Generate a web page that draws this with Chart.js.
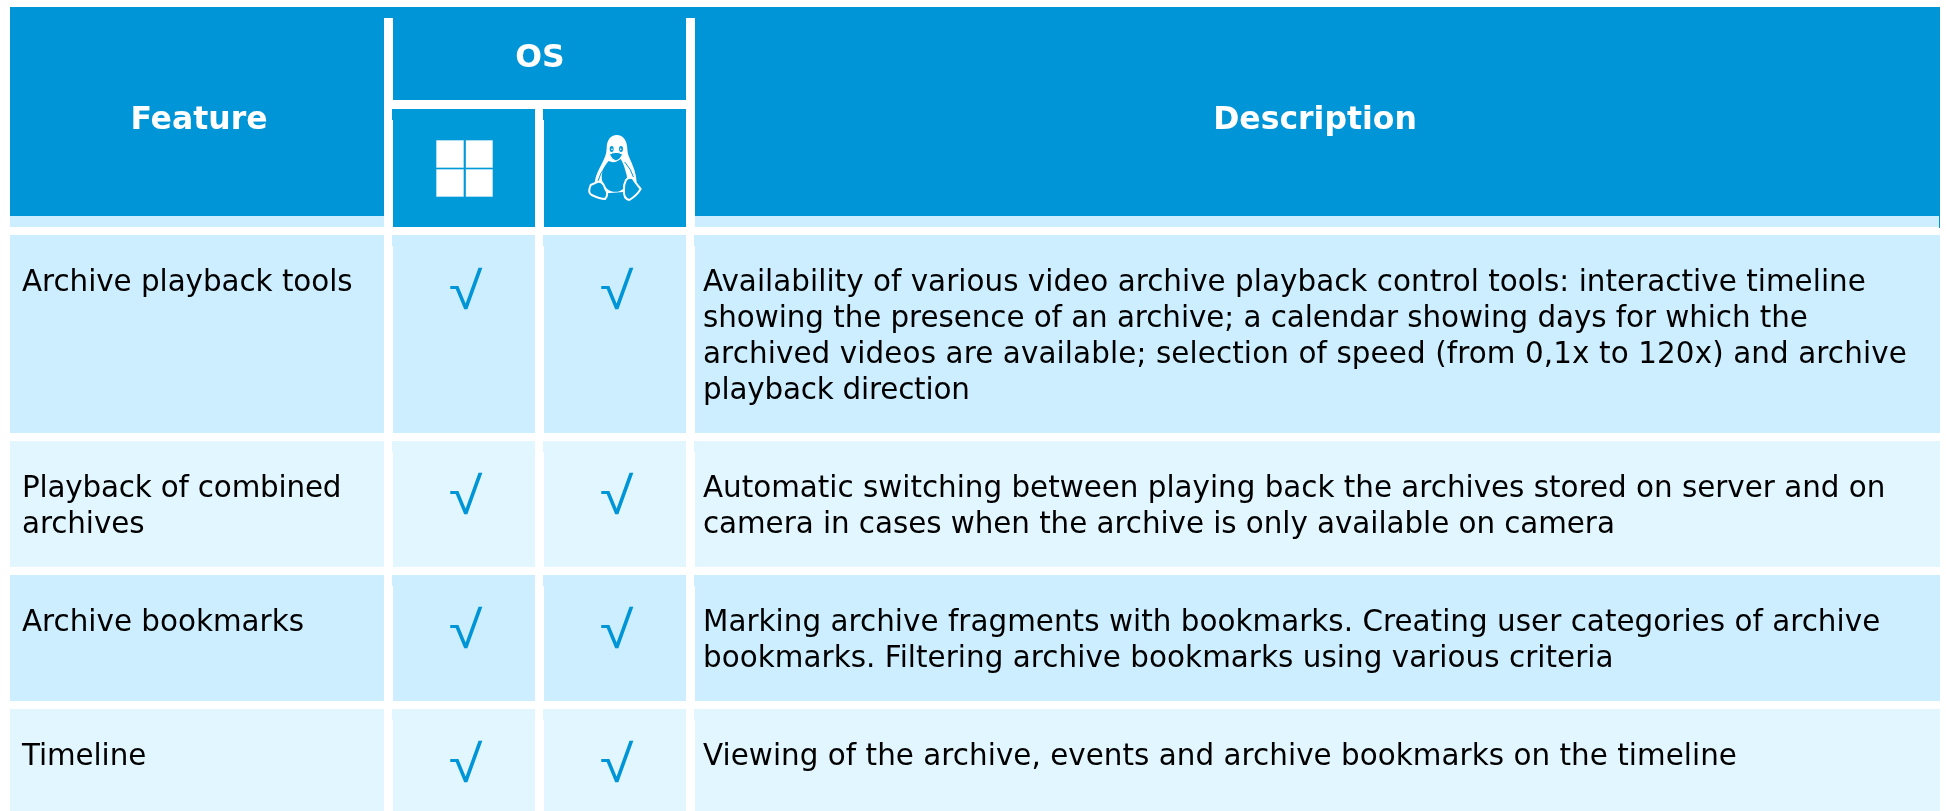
<!DOCTYPE html>
<html>
<head>
<meta charset="utf-8">
<title>Archive features by OS</title>
<script src="https://cdn.jsdelivr.net/npm/chart.js@4"></script>
<style>html,body{margin:0;padding:0;background:#fff}canvas{display:block}</style>
</head>
<body>
<canvas id="c" width="1946" height="811"></canvas>
<script>
const headerFeature = "Feature";
const headerOS = "OS";
const headerDescription = "Description";
const features = [
  ["Archive playback tools"],
  ["Playback of combined", "archives"],
  ["Archive bookmarks"],
  ["Timeline"]
];
const windowsSupport = [1, 1, 1, 1];
const linuxSupport = [1, 1, 1, 1];
const descriptions = [
  ["Availability of various video archive playback control tools: interactive timeline",
   "showing the presence of an archive; a calendar showing days for which the",
   "archived videos are available; selection of speed (from 0,1x to 120x) and archive",
   "playback direction"],
  ["Automatic switching between playing back the archives stored on server and on",
   "camera in cases when the archive is only available on camera"],
  ["Marking archive fragments with bookmarks. Creating user categories of archive",
   "bookmarks. Filtering archive bookmarks using various criteria"],
  ["Viewing of the archive, events and archive bookmarks on the timeline"]
];

/* layout (canvas-unit geometry of the table grid) */
const W = 1946, H = 811, RIGHT = 1940;
const rowTop = [235, 441, 575, 709];
const rowBottom = [433, 567, 701, 811];
const rowColor = ["#cceeff", "#e2f6ff", "#cceeff", "#e2f6ff"];
const colL = [10, 393, 544, 695];
const colR = [384, 535, 686, RIGHT];
const BLUE = "#0095d6", ICON = "#009ad9", STRIP = "#cceeff";
const CHECK_BLUE = "#0095d6";
const BODY_FONT = '29.4px "DejaVu Sans"';
const HEAD_FONT = 'bold 31.5px "DejaVu Sans"';
const CHECK_FONT = '52px "Liberation Sans"';
const LINE = 36, FIRST = 56;
const checkDrop = [74, 73, 73, 73];
/* per-line letter spacing, px */
const featureTracking = [[-0.05], [-0.19, -0.1], [0], [-0.1]];
const descriptionTracking = [[0.03, -0.068, 0.107, -0.2], [-0.013, -0.06], [0.03, 0.04], [0.035]];

function bar(x0, x1, y0, y1, color) {
  return {
    type: "bar", indexAxis: "y", grouped: false, barThickness: y1 - y0,
    backgroundColor: color, borderWidth: 0, borderSkipped: false, inflateAmount: 0,
    data: [{ x: [x0, x1], y: (y0 + y1) / 2 }]
  };
}
const cells = [];
/* header */
cells.push(bar(10, RIGHT, 7, 18, BLUE));
cells.push(bar(10, 384, 18, 216, BLUE));
cells.push(bar(10, 384, 216, 227, STRIP));
cells.push(bar(393, 686, 18, 100, BLUE));
cells.push(bar(393, 535, 109, 227, ICON));
cells.push(bar(544, 686, 109, 227, ICON));
cells.push(bar(392, 393, 109, 120, ICON));
cells.push(bar(543, 544, 109, 120, ICON));
cells.push(bar(695, RIGHT, 18, 216, BLUE));
cells.push(bar(695, RIGHT - 1, 216, 227, STRIP));
cells.push(bar(RIGHT - 1, RIGHT, 216, 228, BLUE));
/* body rows */
rowTop.forEach((t, r) => {
  colL.forEach((l, c) => {
    cells.push(bar(l, colR[c], t, rowBottom[r], rowColor[r]));
    if (c > 0) cells.push(bar(l - 1, l, t, t + 11, rowColor[r]));
  });
});
const checkCols = [465.5, 616.5];
const checkPoints = (flags, cx) => flags.map((v, i) => v ? { x: cx, y: rowTop[i] + checkDrop[i] } : null).filter(Boolean);
const checkSets = [
  { type: "scatter", label: "Windows", data: checkPoints(windowsSupport, checkCols[0]), pointRadius: 0, showLine: false },
  { type: "scatter", label: "Linux", data: checkPoints(linuxSupport, checkCols[1]), pointRadius: 0, showLine: false }
];

function drawWindows(ctx) {
  ctx.fillStyle = "#fff";
  ctx.strokeStyle = "rgba(255,255,255,0.35)";
  ctx.lineWidth = 1;
  [[436.5, 140.5, 27, 27], [466, 140.5, 26.5, 27], [436.5, 169.5, 27, 27], [466, 169.5, 26.5, 27]].forEach(p => {
    ctx.fillRect(p[0], p[1], p[2], p[3]);
    ctx.strokeRect(p[0], p[1], p[2], p[3]);
  });
}
function drawTux(ctx) {
  ctx.save();
  ctx.translate(570, 125);
  ctx.scale(1 / 3, 1 / 3);
  ctx.lineJoin = "round";
  ctx.lineCap = "round";
  /* head and shoulder silhouette */
  ctx.fillStyle = "#fff";
  ctx.beginPath();
  ctx.moveTo(140, 30);
  ctx.bezierCurveTo(160, 30, 172, 48, 172, 72);
  ctx.bezierCurveTo(172, 100, 196, 120, 200, 170);
  ctx.lineTo(170, 200);
  ctx.lineTo(110, 205);
  ctx.lineTo(74, 172);
  ctx.bezierCurveTo(80, 130, 110, 105, 110, 70);
  ctx.bezierCurveTo(110, 45, 122, 30, 140, 30);
  ctx.closePath();
  ctx.fill();
  /* belly */
  ctx.fillStyle = ICON;
  ctx.beginPath();
  ctx.moveTo(116, 108);
  ctx.bezierCurveTo(100, 125, 90, 150, 98, 172);
  ctx.bezierCurveTo(108, 198, 130, 205, 150, 198);
  ctx.bezierCurveTo(168, 190, 174, 170, 170, 150);
  ctx.bezierCurveTo(164, 128, 160, 115, 152, 102);
  ctx.bezierCurveTo(140, 112, 128, 114, 116, 108);
  ctx.closePath();
  ctx.fill();
  /* flippers: blue slits inside the white shoulders */
  ctx.strokeStyle = ICON;
  ctx.lineWidth = 3;
  ctx.beginPath();
  ctx.moveTo(108, 122); ctx.quadraticCurveTo(88, 148, 84, 168);
  ctx.moveTo(165, 112); ctx.quadraticCurveTo(185, 135, 190, 155);
  ctx.stroke();
  /* eyes and beak */
  ctx.fillStyle = ICON;
  ctx.beginPath(); ctx.ellipse(125, 72, 6, 9, 0, 0, 7); ctx.fill();
  ctx.beginPath(); ctx.ellipse(153, 72, 6, 9, 0, 0, 7); ctx.fill();
  ctx.fillStyle = "#fff";
  ctx.beginPath(); ctx.arc(126, 73, 2.5, 0, 7); ctx.arc(152, 73, 2.5, 0, 7); ctx.fill();
  ctx.fillStyle = ICON;
  ctx.strokeStyle = "#fff";
  ctx.lineWidth = 3;
  ctx.beginPath();
  ctx.moveTo(118, 88);
  ctx.quadraticCurveTo(138, 76, 158, 88);
  ctx.quadraticCurveTo(150, 106, 138, 108);
  ctx.quadraticCurveTo(126, 106, 118, 88);
  ctx.closePath();
  ctx.fill(); ctx.stroke();
  /* feet */
  ctx.lineWidth = 6;
  ctx.beginPath();
  ctx.moveTo(62, 180);
  ctx.lineTo(85, 170);
  ctx.quadraticCurveTo(100, 170, 105, 190);
  ctx.quadraticCurveTo(118, 208, 105, 222);
  ctx.quadraticCurveTo(90, 222, 65, 210);
  ctx.quadraticCurveTo(52, 205, 62, 180);
  ctx.closePath();
  ctx.fill(); ctx.stroke();
  ctx.beginPath();
  ctx.moveTo(168, 165);
  ctx.quadraticCurveTo(175, 155, 188, 160);
  ctx.quadraticCurveTo(195, 172, 212, 192);
  ctx.quadraticCurveTo(200, 212, 178, 225);
  ctx.quadraticCurveTo(160, 222, 162, 195);
  ctx.quadraticCurveTo(160, 180, 168, 165);
  ctx.closePath();
  ctx.fill(); ctx.stroke();
  ctx.restore();
}

const tablePlugin = {
  id: "tableText",
  afterDraw(chart) {
    const { ctx, scales: { x, y } } = chart;
    ctx.save();
    ctx.textBaseline = "alphabetic";
    /* headers */
    ctx.font = HEAD_FONT;
    ctx.fillStyle = "#fff";
    ctx.textAlign = "center";
    ctx.fillText(headerFeature, x.getPixelForValue(199), y.getPixelForValue(129));
    ctx.fillText(headerOS, x.getPixelForValue(540), y.getPixelForValue(67));
    ctx.fillText(headerDescription, x.getPixelForValue(1315), y.getPixelForValue(129));
    drawWindows(ctx);
    drawTux(ctx);
    /* body text */
    ctx.font = BODY_FONT;
    ctx.fillStyle = "#000";
    ctx.textAlign = "left";
    features.forEach((lines, r) => lines.forEach((t, i) => {
      ctx.letterSpacing = featureTracking[r][i] + "px";
      ctx.fillText(t, x.getPixelForValue(22), y.getPixelForValue(rowTop[r] + FIRST + i * LINE));
    }));
    descriptions.forEach((lines, r) => lines.forEach((t, i) => {
      ctx.letterSpacing = descriptionTracking[r][i] + "px";
      ctx.fillText(t, x.getPixelForValue(703), y.getPixelForValue(rowTop[r] + FIRST + i * LINE));
    }));
    ctx.letterSpacing = "0px";
    /* check marks placed by the scatter datasets */
    ctx.font = CHECK_FONT;
    ctx.fillStyle = CHECK_BLUE;
    ctx.textAlign = "center";
    chart.data.datasets.forEach((d, i) => {
      if (d.type !== "scatter") return;
      chart.getDatasetMeta(i).data.forEach(p => {
        ctx.save();
        ctx.translate(p.x, p.y);
        ctx.scale(1.18, 1);
        ctx.fillText("\u221A", 0, 0);
        ctx.restore();
      });
    });
    ctx.restore();
  }
};

new Chart(document.getElementById("c"), {
  type: "bar",
  data: { datasets: cells.concat(checkSets) },
  options: {
    responsive: false,
    animation: false,
    layout: { padding: 0 },
    plugins: { legend: { display: false }, title: { display: false }, tooltip: { enabled: false } },
    scales: {
      x: { type: "linear", min: 0, max: W, display: false, offset: false, grid: { offset: false } },
      y: { type: "linear", min: 0, max: H, reverse: true, display: false, offset: false, grid: { offset: false } }
    }
  },
  plugins: [tablePlugin]
});
</script>
</body>
</html>
